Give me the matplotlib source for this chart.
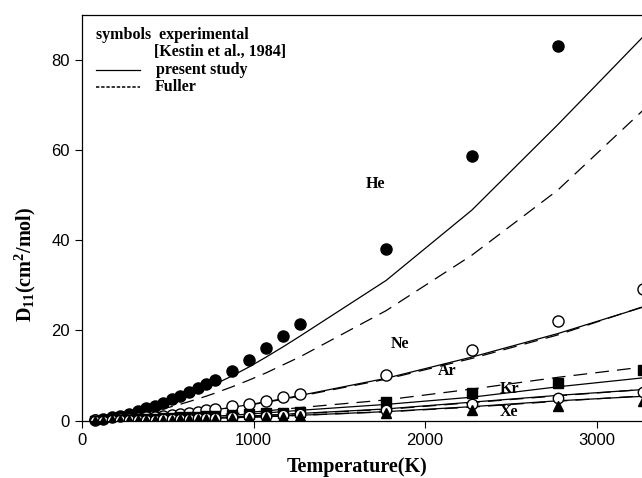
import matplotlib
matplotlib.use("Agg")
import matplotlib.pyplot as plt
from matplotlib.lines import Line2D

plt.rcParams['font.family'] = ['Liberation Sans', 'DejaVu Sans']
plt.rcParams['mathtext.fontset'] = 'custom'
plt.rcParams['mathtext.rm'] = 'Liberation Serif:bold'
plt.rcParams['mathtext.it'] = 'Liberation Serif:bold'
plt.rcParams['mathtext.bf'] = 'Liberation Serif:bold'

# temperatures (K)
T = [73, 123, 173, 223, 273, 323, 373, 423, 473, 523, 573, 623, 673, 723, 773,
     873, 973, 1073, 1173, 1273, 1773, 2273, 2773, 3273]

# experimental self-diffusion, Kestin et al. 1984
he_exp = [0.17, 0.41, 0.72, 1.1, 1.55, 2.1, 2.7, 3.2, 3.9, 4.7, 5.4, 6.3, 7.2, 8.1, 9.0,
          11.1, 13.5, 16.1, 18.7, 21.5, 38.1, 58.7, 83.0]
ne_exp = [0.05, 0.11, 0.2, 0.31, 0.43, 0.57, 0.73, 0.91, 1.1, 1.3, 1.52, 1.75, 2.0, 2.25, 2.6,
          3.2, 3.7, 4.4, 5.2, 5.9, 10.2, 15.6, 22.0, 29.1]
ar_exp = [0.02, 0.05, 0.09, 0.14, 0.2, 0.27, 0.34, 0.42, 0.5, 0.6, 0.7, 0.8, 0.9, 1.0, 1.1,
          1.25, 1.5, 1.65, 1.8, 1.9, 4.1, 6.1, 8.3, 11.3]
kr_exp = [0.012, 0.028, 0.05, 0.078, 0.11, 0.15, 0.19, 0.23, 0.28, 0.33, 0.39, 0.45, 0.51, 0.57, 0.64,
          0.79, 0.95, 1.12, 1.31, 1.5, 2.3, 3.6, 5.0, 6.4]
xe_exp = [0.008, 0.019, 0.034, 0.052, 0.073, 0.097, 0.124, 0.154, 0.186, 0.22, 0.257, 0.297, 0.339, 0.382, 0.428,
          0.53, 0.63, 0.75, 0.87, 1.0, 1.6, 2.4, 3.3, 4.4]

# present study
he_pres = [0.14, 0.36, 0.63, 0.97, 1.37, 1.82, 2.33, 2.9, 3.5, 4.14, 4.83, 5.58, 6.37, 7.18, 8.05,
           9.9, 11.9, 14.1, 16.4, 18.8, 31.1, 46.7, 65.6, 85.2]
ne_pres = [0.043, 0.11, 0.19, 0.29, 0.41, 0.54, 0.69, 0.86, 1.04, 1.23, 1.44, 1.66, 1.9, 2.14, 2.4,
           2.95, 3.54, 4.19, 4.87, 5.6, 9.4, 14.1, 19.3, 25.2]
ar_pres = [0.018, 0.043, 0.078, 0.12, 0.17, 0.22, 0.29, 0.35, 0.43, 0.51, 0.59, 0.68, 0.78, 0.88, 0.98,
           1.21, 1.46, 1.72, 2.0, 2.3, 3.6, 5.2, 7.5, 9.5]
kr_pres = [0.012, 0.03, 0.054, 0.083, 0.12, 0.16, 0.2, 0.25, 0.3, 0.35, 0.41, 0.48, 0.54, 0.61, 0.68,
           0.84, 1.01, 1.2, 1.39, 1.6, 2.6, 4.1, 5.6, 6.9]
xe_pres = [0.009, 0.023, 0.04, 0.062, 0.088, 0.12, 0.15, 0.18, 0.22, 0.26, 0.31, 0.36, 0.41, 0.46, 0.51,
           0.63, 0.76, 0.9, 1.04, 1.2, 2.0, 3.1, 4.4, 5.4]

# Fuller correlation
he_ful = [0.11, 0.27, 0.48, 0.73, 1.04, 1.38, 1.76, 2.19, 2.64, 3.12, 3.65, 4.22, 4.81, 5.42, 6.08,
          7.48, 8.99, 10.6, 12.4, 14.2, 24.4, 36.7, 51.1, 68.9]
ne_ful = [0.042, 0.1, 0.18, 0.28, 0.4, 0.53, 0.68, 0.84, 1.01, 1.2, 1.4, 1.62, 1.85, 2.08, 2.33,
          2.87, 3.45, 4.08, 4.74, 5.45, 9.2, 13.8, 19.0, 25.3]
ar_ful = [0.022, 0.055, 0.098, 0.15, 0.21, 0.28, 0.36, 0.45, 0.54, 0.64, 0.75, 0.86, 0.98, 1.11, 1.24,
          1.53, 1.84, 2.17, 2.52, 2.9, 4.6, 7.0, 9.6, 11.9]
kr_ful = [0.012, 0.029, 0.052, 0.08, 0.115, 0.155, 0.195, 0.24, 0.29, 0.34, 0.4, 0.46, 0.52, 0.59, 0.66,
          0.82, 0.98, 1.16, 1.35, 1.55, 2.5, 4.0, 5.5, 6.9]
xe_ful = [0.009, 0.022, 0.039, 0.06, 0.085, 0.115, 0.145, 0.175, 0.21, 0.25, 0.3, 0.35, 0.4, 0.45, 0.5,
          0.61, 0.74, 0.88, 1.02, 1.17, 1.95, 3.0, 4.3, 5.5]

gas_labels = ['He', 'Ne', 'Ar', 'Kr', 'Xe']
label_pos = [(1708, 52.4), (1854, 16.9), (2130, 10.9), (2490, 7.1), (2490, 1.9)]

fig = plt.figure(figsize=(6.42, 4.78), dpi=100)
ax = fig.add_axes([0.128, 0.12, 0.872, 0.849])

lw = 0.9
dash = (11, 6.5)
for pres, ful in [(he_pres, he_ful), (ne_pres, ne_ful), (ar_pres, ar_ful),
                  (kr_pres, kr_ful), (xe_pres, xe_ful)]:
    ax.plot(T, pres, color='black', lw=lw)
    ax.plot(T, ful, color='black', lw=lw, dashes=dash)

ax.plot(T[:len(he_exp)], he_exp, 'o', ms=8, color='black', ls='none', clip_on=False)
ax.plot(T, ne_exp, 'o', ms=8, mfc='white', mec='black', mew=1, ls='none')
ax.plot(T, ar_exp, 's', ms=7, color='black', ls='none')
ax.plot(T, kr_exp, 'o', ms=7.5, mfc='white', mec='black', mew=1, ls='none')
ax.plot(T, xe_exp, '^', ms=7, color='black', ls='none')

serif = dict(family='Liberation Serif', weight='bold')
for name, (x, y) in zip(gas_labels, label_pos):
    ax.text(x, y, name, fontsize=11.5, ha='center', va='center', **serif)

ax.set_xlim(0, 3265)
ax.set_ylim(0, 90)
ax.set_xticks([0, 1000, 2000, 3000])
ax.set_yticks([0, 20, 40, 60, 80])
ax.tick_params(direction='out', length=5, width=0.8, labelsize=12, pad=4)
ax.spines['right'].set_visible(False)
for s in ['left', 'bottom', 'top']:
    ax.spines[s].set_linewidth(0.9)

ax.set_xlabel('Temperature(K)', fontsize=14.5, **serif)
ax.set_ylabel(r'D$_{11}$(cm$^2$/mol)', fontsize=14.5, **serif)
ax.xaxis.set_label_coords(0.491, -0.09)
ax.yaxis.set_label_coords(-0.079, 0.385)

# legend drawn by hand
lx = 0.025
tx = 0.129
fs = 11.5
ax.text(lx, 0.951, 'symbols  experimental', transform=ax.transAxes, fontsize=fs, va='center', **serif)
ax.text(tx, 0.909, '[Kestin et al., 1984]', transform=ax.transAxes, fontsize=fs, va='center', **serif)
ax.add_line(Line2D([lx, 0.104], [0.864, 0.864], transform=ax.transAxes, color='black', lw=lw))
ax.text(tx + 0.003, 0.864, 'present study', transform=ax.transAxes, fontsize=fs, va='center', **serif)
ax.add_line(Line2D([lx, 0.104], [0.823, 0.823], transform=ax.transAxes, color='black', lw=1.1,
                   dashes=(2.2, 1.2)))
ax.text(tx, 0.823, 'Fuller', transform=ax.transAxes, fontsize=fs, va='center', **serif)

fig.savefig('out.png', dpi=100)
